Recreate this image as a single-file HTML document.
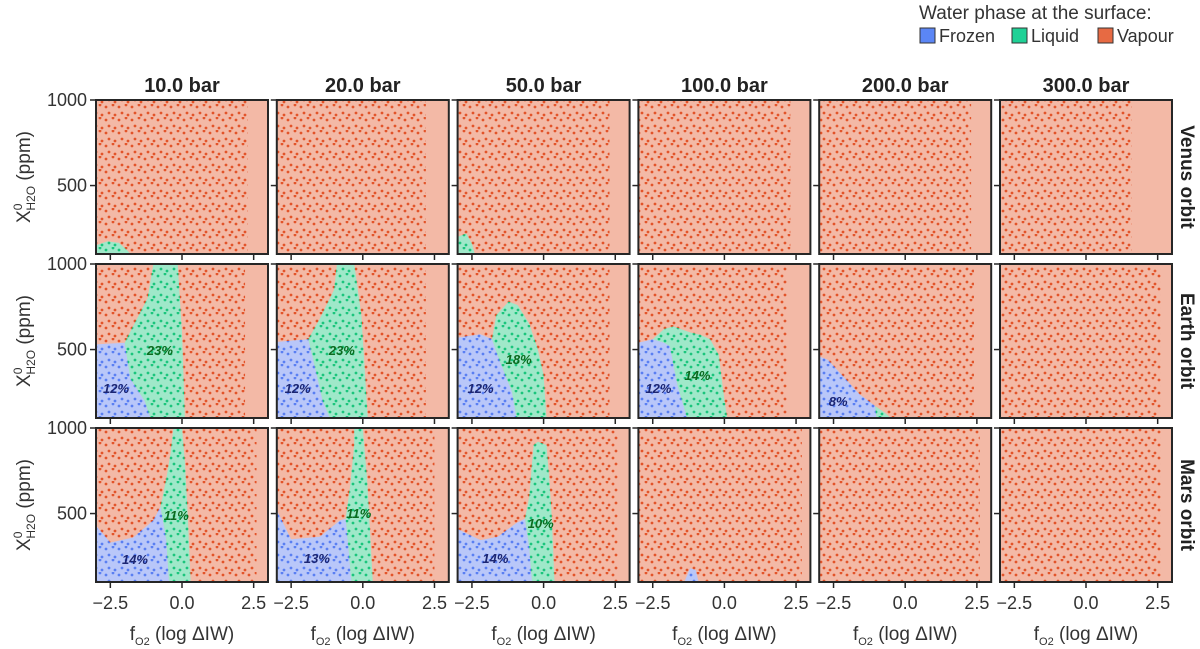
<!DOCTYPE html>
<html><head><meta charset="utf-8"><style>
html,body{margin:0;padding:0;background:#fff;}
svg{display:block;font-family:"Liberation Sans",Arial,sans-serif;}
</style></head><body>
<svg id="chart" width="1200" height="649" viewBox="0 0 1200 649" xmlns="http://www.w3.org/2000/svg">
<defs>
<pattern id="dotV" width="13" height="13" patternUnits="userSpaceOnUse"><circle cx="2" cy="3" r="1.4" fill="#e2542a"/><circle cx="9" cy="1" r="1.4" fill="#e2542a"/><circle cx="5" cy="9" r="1.4" fill="#e2542a"/><circle cx="11" cy="11" r="1.4" fill="#e2542a"/></pattern>
<pattern id="dotF" width="13" height="13" patternUnits="userSpaceOnUse"><circle cx="2" cy="3" r="1.4" fill="#5a7ff2"/><circle cx="9" cy="1" r="1.4" fill="#5a7ff2"/><circle cx="5" cy="9" r="1.4" fill="#5a7ff2"/><circle cx="11" cy="11" r="1.4" fill="#5a7ff2"/></pattern>
<pattern id="dotL" width="13" height="13" patternUnits="userSpaceOnUse"><circle cx="2" cy="3" r="1.4" fill="#1bc57c"/><circle cx="9" cy="1" r="1.4" fill="#1bc57c"/><circle cx="5" cy="9" r="1.4" fill="#1bc57c"/><circle cx="11" cy="11" r="1.4" fill="#1bc57c"/></pattern>
</defs>
</svg>
<script>
const pressures = ["10.0 bar","20.0 bar","50.0 bar","100.0 bar","200.0 bar","300.0 bar"];
const orbits = ["Venus orbit","Earth orbit","Mars orbit"];
const xTicks = [-2.5, 0, 2.5];
const xTickLabels = ["\u22122.5","0.0","2.5"];
const yTicks = [500, 1000];
const yTickLabels = ["500","1000"];
const xDomain = [-3, 3];
const yDomain = [100, 1000];
// frozen regions [row][col] as [fO2, ppm] vertices
const frozenRegions = [
 [null,null,null,null,null,null],
 [[[-3,100],[-3,530],[-2.0,540],[-1.8,330],[-1.3,200],[-1.1,100]],
  [[-3,100],[-3,545],[-1.9,560],[-1.6,350],[-1.4,200],[-1.15,100]],
  [[-3,100],[-3,570],[-2.2,590],[-1.8,560],[-1.5,420],[-1.1,250],[-0.95,100]],
  [[-3,100],[-3,540],[-2.5,560],[-2.1,540],[-1.9,520],[-1.65,300],[-1.3,100]],
  [[-3,100],[-3,460],[-2.7,440],[-2.2,350],[-1.6,240],[-1.05,170],[-1.0,100]],
  null],
 [[[-3,100],[-3,430],[-2.5,330],[-1.7,360],[-1.0,460],[-0.75,540],[-0.55,350],[-0.45,100]],
  [[-3,100],[-3,520],[-2.5,350],[-1.5,365],[-0.8,460],[-0.6,470],[-0.5,300],[-0.4,100]],
  [[-3,100],[-3,410],[-2.2,345],[-1.6,365],[-0.95,445],[-0.65,470],[-0.5,300],[-0.4,100]],
  [[-1.4,100],[-1.2,180],[-1.0,170],[-0.9,100]],
  null,null]
];
const liquidRegions = [
 [[[-3,100],[-3,150],[-2.6,175],[-2.2,165],[-1.9,120],[-1.8,100]],
  null,
  [[-3,100],[-3,200],[-2.7,220],[-2.5,160],[-2.4,100]],
  null,null,null],
 [[[-1.0,1000],[-0.15,1000],[0.0,600],[0.1,100],[-1.1,100],[-1.3,200],[-1.8,330],[-2.0,540],[-1.85,590],[-1.2,800]],
  [[-0.9,1000],[-0.3,1000],[-0.05,700],[0.17,100],[-1.15,100],[-1.4,200],[-1.6,350],[-1.9,560],[-1.5,680],[-1.0,850]],
  [[-1.8,560],[-1.65,700],[-1.22,780],[-0.9,760],[-0.5,650],[-0.2,500],[0.0,350],[0.1,100],[-0.95,100],[-1.1,250],[-1.5,420]],
  [[-2.5,560],[-2.1,620],[-1.78,635],[-1.2,600],[-0.84,586],[-0.5,560],[-0.2,470],[0,205],[0.1,100],[-1.3,100],[-1.65,300],[-1.9,520],[-2.1,540]],
  [[-1.05,170],[-0.7,130],[-0.5,100],[-1.0,100]],
  null],
 [[[-0.3,1000],[0.0,1000],[0.1,800],[0.2,500],[0.3,100],[-0.45,100],[-0.55,350],[-0.75,540],[-0.55,700],[-0.4,850]],
  [[-0.3,1000],[0.0,1000],[0.15,700],[0.25,400],[0.35,100],[-0.4,100],[-0.5,300],[-0.6,470],[-0.45,650],[-0.3,900]],
  [[-0.35,900],[-0.2,920],[0.1,900],[0.2,700],[0.28,500],[0.38,100],[-0.4,100],[-0.5,300],[-0.65,470],[-0.5,600],[-0.4,800]],
  null,null,null]
];
// percentage labels: [row, col, phase, fO2, ppm, text]
const pctLabels = [
 [1,0,"F",-2.3,275,"12%"],[1,0,"L",-0.77,497,"23%"],
 [1,1,"F",-2.27,275,"12%"],[1,1,"L",-0.73,497,"23%"],
 [1,2,"F",-2.2,275,"12%"],[1,2,"L",-0.87,445,"18%"],
 [1,3,"F",-2.3,275,"12%"],[1,3,"L",-0.94,351,"14%"],
 [1,4,"F",-2.34,199,"8%"],
 [2,0,"F",-1.64,234,"14%"],[2,0,"L",-0.2,491,"11%"],
 [2,1,"F",-1.6,240,"13%"],[2,1,"L",-0.14,503,"11%"],
 [2,2,"F",-1.68,240,"14%"],[2,2,"L",-0.1,445,"10%"]
];
// right extent of sampled points per panel (fO2)
const dotXMax = [[2.3,2.2,2.3,2.3,2.3,1.6],[2.2,2.2,2.3,2.2,2.4,2.6],[2.6,2.5,2.6,2.7,2.6,2.6]];

const NS="http://www.w3.org/2000/svg";
const svg=document.getElementById('chart');
function mk(tag,attrs,parent){const e=document.createElementNS(NS,tag);for(const k in attrs)e.setAttribute(k,attrs[k]);(parent||svg).appendChild(e);return e;}
const PW=172, PH=154, colX=c=>96+c*180.8, rowY=r=>100+r*164;
function sx(c,v){return colX(c)+(v-xDomain[0])/(xDomain[1]-xDomain[0])*PW;}
function sy(r,v){return rowY(r)+PH-(v-yDomain[0])/(yDomain[1]-yDomain[0])*PH;}
function pts(r,c,poly){return poly.map(p=>sx(c,p[0]).toFixed(1)+","+sy(r,p[1]).toFixed(1)).join(" ");}

for(let r=0;r<3;r++){for(let c=0;c<6;c++){
  const g=mk('g',{});
  
  
  const cid='clip'+r+'_'+c;
  const cp=mk('clipPath',{id:cid},g);mk('rect',{x:colX(c),y:rowY(r),width:PW,height:PH},cp);
  const bg=mk('rect',{x:colX(c),y:rowY(r),width:PW,height:PH,fill:'#f3b9a6'},g);
  
  const dv=mk('rect',{x:colX(c),y:rowY(r),width:sx(c,dotXMax[r][c])-colX(c),height:PH,fill:'url(#dotV)'},g);
  
  const inner=mk('g',{'clip-path':'url(#'+cid+')'},g);
  const fr=frozenRegions[r][c];
  if(fr){const p=mk('polygon',{points:pts(r,c,fr),fill:'#b9c7f9'},inner);
    
    const p2=mk('polygon',{points:pts(r,c,fr),fill:'url(#dotF)'},inner);
    }
  const lq=liquidRegions[r][c];
  if(lq){const p=mk('polygon',{points:pts(r,c,lq),fill:'#9fe8c9'},inner);
    
    const p2=mk('polygon',{points:pts(r,c,lq),fill:'url(#dotL)'},inner);
    }
  const fr2=mk('rect',{x:colX(c),y:rowY(r),width:PW,height:PH,fill:'none',stroke:'#262626','stroke-width':2},g);
  
  xTicks.forEach((t,i)=>{const x=sx(c,t);
    const tk=mk('line',{x1:x,x2:x,y1:rowY(r)+PH,y2:rowY(r)+PH+6,stroke:'#262626','stroke-width':1.5},g);
    
    if(r===2){const tl=mk('text',{x:x,y:rowY(r)+PH+27,'text-anchor':'middle','font-size':18,fill:'#333'},g);tl.textContent=xTickLabels[i];
      }
  });
  yTicks.forEach((t,i)=>{const y=sy(r,t);
    const tk=mk('line',{x1:colX(c)-6,x2:colX(c),y1:y,y2:y,stroke:'#262626','stroke-width':1.5},g);
    
    if(c===0){const tl=mk('text',{x:colX(c)-9,y:y+6,'text-anchor':'end','font-size':18,fill:'#333'},g);tl.textContent=yTickLabels[i];
      }
  });
}}
pctLabels.forEach(l=>{
  const t=mk('text',{x:sx(l[1],l[3]),y:sy(l[0],l[4])+5,'text-anchor':'middle','font-size':13,'font-weight':'bold','font-style':'italic',fill:l[2]==='F'?'#1c2673':'#0b6b1f'});
  t.textContent=l[5];
  
  
});
pressures.forEach((p,c)=>{
  const t=mk('text',{x:colX(c)+PW/2,y:92,'text-anchor':'middle','font-size':20,'font-weight':'bold',fill:'#222'});
  t.textContent=p;
  
  
  const xl=mk('text',{x:colX(c)+PW/2,y:640,'text-anchor':'middle','font-size':19,fill:'#333'});
  xl.innerHTML='f<tspan font-size="11" dy="5">O2</tspan><tspan dy="-5"> (log ΔIW)</tspan>';
  
  
});
orbits.forEach((o,r)=>{
  const cy=rowY(r)+PH/2;
  const t=mk('text',{x:1186,y:cy,'text-anchor':'middle','font-size':19,'font-weight':'bold',fill:'#222',transform:'rotate(90 1186 '+cy+')','dominant-baseline':'middle'});
  t.textContent=o;
  
  
  const yl=mk('text',{x:0,y:0,'text-anchor':'middle','font-size':19,fill:'#333',transform:'translate(30 '+cy+') rotate(-90)'});
  yl.innerHTML='X<tspan font-size="12" dy="-8">0</tspan><tspan font-size="12" dy="13" dx="-7">H2O</tspan><tspan dy="-5"> (ppm)</tspan>';
  
  
});
const lt=mk('text',{x:919,y:19,'font-size':19,fill:'#333'});
lt.textContent='Water phase at the surface:';


const legendNames=["Frozen","Liquid","Vapour"];
const legendColors=["#5b86f5","#1fd196","#e76a43"];
const legendX=[920,1012,1098];
legendNames.forEach((n,i)=>{
  const g=mk('g',{});
  
  
  mk('rect',{x:legendX[i],y:28,width:15,height:15,fill:legendColors[i],stroke:'#333','stroke-width':1},g);
  const t=mk('text',{x:legendX[i]+19,y:42,'font-size':18,fill:'#333'},g);t.textContent=n;
});
</script>
</body></html>
